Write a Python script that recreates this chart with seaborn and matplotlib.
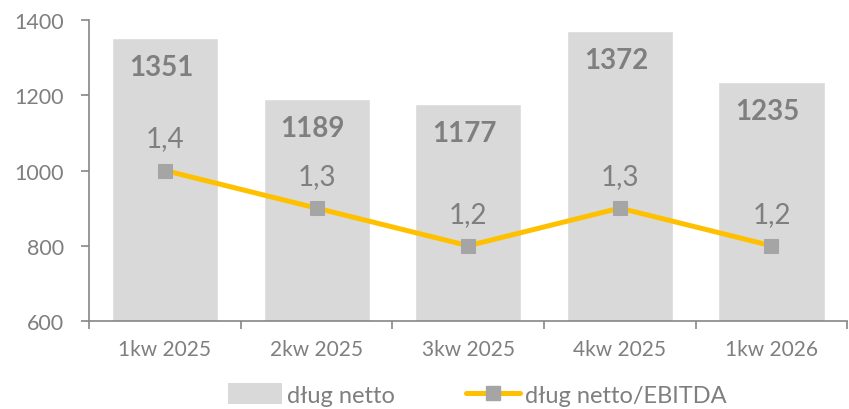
import numpy as np
import matplotlib
matplotlib.use("Agg")
import matplotlib.pyplot as plt
import seaborn as sns
from matplotlib.patches import Patch
from matplotlib.lines import Line2D

# dane
kwartaly = ["1kw 2025", "2kw 2025", "3kw 2025", "4kw 2025", "1kw 2026"]
dlug_netto = [1351, 1189, 1177, 1372, 1235]
dlug_ebitda = [1.4, 1.3, 1.2, 1.3, 1.2]
etykiety_ebitda = ["1,4", "1,3", "1,2", "1,3", "1,2"]

szary_tekst = "#7F7F7F"
szary_slupek = "#D9D9D9"
zolty = "#FFC000"
szary_znacznik = "#A5A5A5"

sns.set_style("white")
plt.rcParams["font.family"] = ["Lato", "DejaVu Sans"]

fig = plt.figure(figsize=(8.49, 4.10), dpi=100)
ax = fig.add_axes([0.105, 0.2146, 0.893, 0.7342])

sns.barplot(x=kwartaly, y=dlug_netto, color=szary_slupek, width=0.7,
            saturation=1, ax=ax)
ax.set_ylim(600, 1400)
ax.set_xlim(-0.5, len(kwartaly) - 0.5)
ax.set_yticks([600, 800, 1000, 1200, 1400])

# etykiety slupkow
for i, v in enumerate(dlug_netto):
    ax.annotate(str(v), (i, v), xytext=(-4, -29), textcoords="offset pixels",
                ha="center", va="center", fontsize=20, fontweight="bold",
                color=szary_tekst)

# os pomocnicza dla wskaznika
ax2 = ax.twinx()
sns.lineplot(x=np.arange(len(kwartaly)), y=dlug_ebitda, ax=ax2, color=zolty,
             linewidth=3.6, marker="s", markersize=10,
             markerfacecolor=szary_znacznik, markeredgecolor=szary_znacznik)
ax2.set_ylim(1.0, 1.8)
ax2.set_axis_off()
for i, (v, t) in enumerate(zip(dlug_ebitda, etykiety_ebitda)):
    ax2.annotate(t, (i, v), xytext=(0, 32), textcoords="offset pixels",
                 ha="center", va="center", fontsize=20, color=szary_tekst)

# osie w stylu excela
for s in ["top", "right"]:
    ax.spines[s].set_visible(False)
for s in ["left", "bottom"]:
    ax.spines[s].set_color("#868686")
    ax.spines[s].set_linewidth(1.2)
ax.set_xticks(np.arange(len(kwartaly) + 1) - 0.5)
ax.set_xticklabels([])
ax.set_xticks(np.arange(len(kwartaly)), minor=True)
ax.set_xticklabels(kwartaly, minor=True)
ax.tick_params(axis="x", which="major", direction="out", length=6,
               color="#868686", width=1.2, bottom=True)
ax.tick_params(axis="x", which="minor", length=0, pad=13,
               labelsize=15, labelcolor=szary_tekst)
ax.tick_params(axis="y", direction="out", length=6, color="#868686",
               width=1.2, left=True, pad=12, labelsize=15.5,
               labelcolor=szary_tekst)
ax.set_xlabel("")
ax.set_ylabel("")

uchwyty = [
    Patch(facecolor=szary_slupek, edgecolor="none", label="dług netto"),
    Line2D([0], [0], color=zolty, linewidth=3.6, marker="s", markersize=10,
           markerfacecolor=szary_znacznik, markeredgecolor=szary_znacznik,
           label="dług netto/EBITDA"),
]
leg = fig.legend(handles=uchwyty, loc="center", bbox_to_anchor=(0.562, 0.035),
                 ncol=2, frameon=False, fontsize=17, handlelength=2.3,
                 handleheight=1.0, columnspacing=3.0, handletextpad=0.2)
for t in leg.get_texts():
    t.set_color(szary_tekst)

fig.savefig("out.png", dpi=100)
